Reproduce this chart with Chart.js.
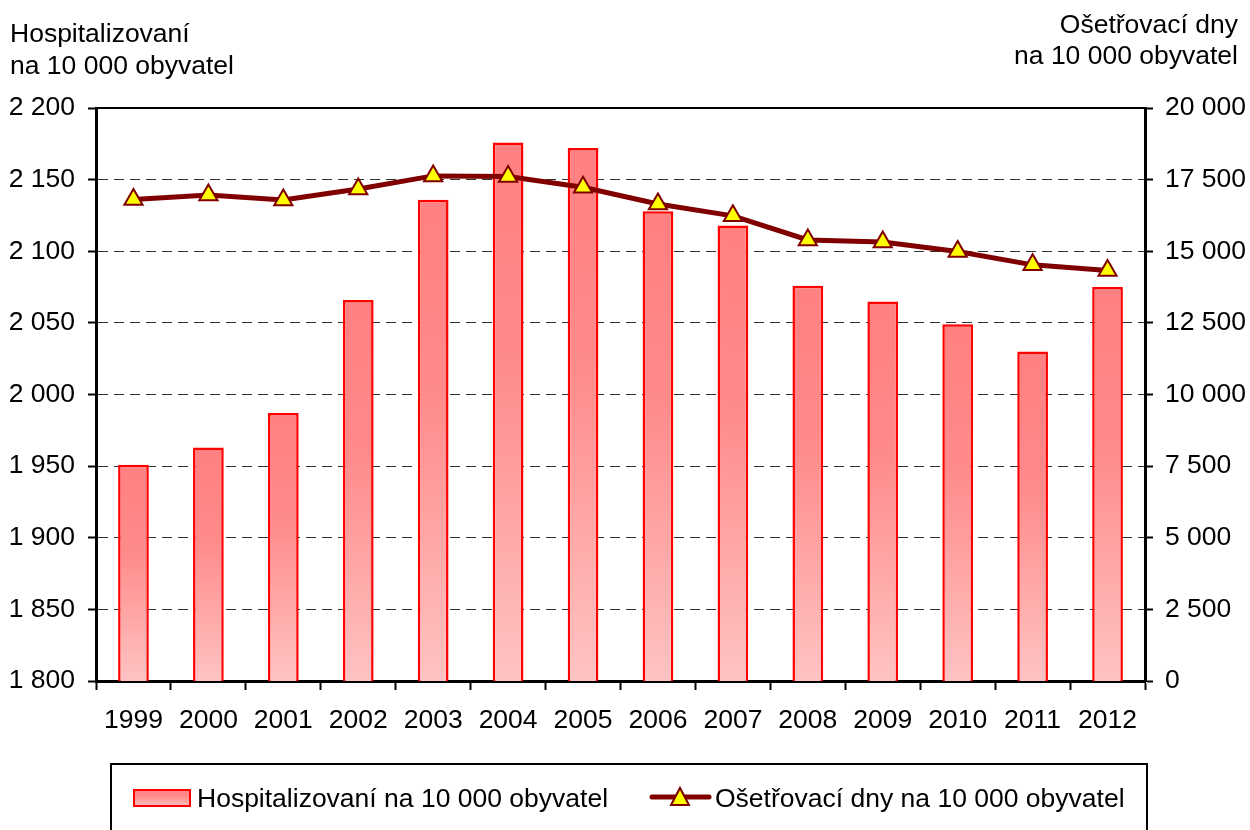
<!DOCTYPE html>
<html>
<head>
<meta charset="utf-8">
<script src="https://cdn.jsdelivr.net/npm/chart.js@4/dist/chart.umd.min.js"></script>
<style>
  html, body { margin: 0; padding: 0; background: #fff; }
  #wrap { position: relative; width: 1250px; height: 830px; }
</style>
</head>
<body>
<div id="wrap"><canvas id="chart" width="1250" height="830"></canvas></div>
<script>
const years = ['1999', '2000', '2001', '2002', '2003', '2004', '2005', '2006', '2007', '2008', '2009', '2010', '2011', '2012'];
const hospitalized = [1951, 1963, 1987, 2066, 2136, 2176, 2172, 2128, 2118, 2076, 2065, 2049, 2030, 2075];
const careDays = [16810, 16965, 16790, 17175, 17630, 17610, 17235, 16650, 16235, 15395, 15325, 14990, 14525, 14325];
const leftTitle = ['Hospitalizovaní', 'na 10 000 obyvatel'];
const rightTitle = ['Ošetřovací dny', 'na 10 000 obyvatel'];
const barLabel = 'Hospitalizovaní na 10 000 obyvatel';
const lineLabel = 'Ošetřovací dny na 10 000 obyvatel';

const FONT = 'Liberation Sans, Arial, sans-serif';
const FSIZE = 26.5;
const fmt = v => String(v).replace(/\B(?=(\d{3})+(?!\d))/g, ' ');

function barGradient(ctx, top, bottom) {
    const g = ctx.createLinearGradient(0, top, 0, bottom);
    g.addColorStop(0, '#ff8080');
    g.addColorStop(0.4, '#ff8a8a');
    g.addColorStop(1, '#ffc3c3');
    return g;
}

// titles, solid top frame line and the boxed legend
const decorations = {
    id: 'decorations',
    beforeDatasetsDraw(chart) {
        const { ctx, chartArea } = chart;
        ctx.save();
        ctx.strokeStyle = '#000';
        ctx.lineWidth = 2;
        ctx.beginPath();
        ctx.moveTo(chartArea.left, chartArea.top);
        ctx.lineTo(chartArea.right, chartArea.top);
        ctx.stroke();
        ctx.restore();
    },
    afterDraw(chart) {
        const ctx = chart.ctx;
        ctx.save();
        ctx.fillStyle = '#000';
        ctx.font = FSIZE + 'px ' + FONT;
        ctx.textBaseline = 'alphabetic';
        ctx.textAlign = 'left';
        ctx.fillText(leftTitle[0], 10, 42);
        ctx.fillText(leftTitle[1], 10, 74);
        ctx.textAlign = 'right';
        ctx.fillText(rightTitle[0], 1238, 33);
        ctx.fillText(rightTitle[1], 1238, 64);

        // legend box
        ctx.strokeStyle = '#000';
        ctx.lineWidth = 2;
        ctx.strokeRect(111, 764, 1036, 100);

        ctx.fillStyle = barGradient(ctx, 789, 807);
        ctx.fillRect(134, 790, 56, 16);
        ctx.strokeStyle = '#ff0000';
        ctx.lineWidth = 2;
        ctx.strokeRect(134, 790, 56, 16);

        ctx.fillStyle = '#000';
        ctx.textAlign = 'left';
        ctx.fillText(barLabel, 197, 807);

        ctx.strokeStyle = '#800000';
        ctx.lineWidth = 5;
        ctx.lineCap = 'round';
        ctx.beginPath();
        ctx.moveTo(652, 797);
        ctx.lineTo(709, 797);
        ctx.stroke();
        ctx.beginPath();
        ctx.moveTo(680, 788);
        ctx.lineTo(689, 805);
        ctx.lineTo(671, 805);
        ctx.closePath();
        ctx.fillStyle = '#ffff00';
        ctx.fill();
        ctx.lineWidth = 2;
        ctx.lineJoin = 'miter';
        ctx.stroke();

        ctx.fillStyle = '#000';
        ctx.fillText(lineLabel, 715, 807);
        ctx.restore();
    }
};

new Chart(document.getElementById('chart'), {
    type: 'bar',
    data: {
        labels: years,
        datasets: [
            {
                type: 'line',
                label: lineLabel,
                data: careDays,
                yAxisID: 'y1',
                order: 0,
                borderColor: '#800000',
                borderWidth: 5,
                tension: 0,
                pointStyle: 'triangle',
                pointRadius: 10.5,
                pointBackgroundColor: '#ffff00',
                pointBorderColor: '#800000',
                pointBorderWidth: 2
            },
            {
                type: 'bar',
                label: barLabel,
                data: hospitalized,
                yAxisID: 'y',
                order: 1,
                borderColor: '#ff0000',
                borderWidth: 2.5,
                categoryPercentage: 1,
                barPercentage: 0.41,
                backgroundColor: function (c) {
                    const chart = c.chart;
                    const area = chart.chartArea;
                    if (!area || c.type !== 'data') return '#ff9999';
                    const top = chart.scales.y.getPixelForValue(c.raw);
                    return barGradient(chart.ctx, top, area.bottom);
                }
            }
        ]
    },
    options: {
        responsive: false,
        animation: false,
        devicePixelRatio: 1,
        layout: { padding: { top: 108, left: 0, right: 0, bottom: 0 } },
        plugins: {
            legend: { display: false },
            tooltip: { enabled: false }
        },
        scales: {
            x: {
                offset: true,
                grid: {
                    offset: true,
                    drawOnChartArea: false,
                    tickLength: 9,
                    tickWidth: 2,
                    tickColor: '#000'
                },
                border: { color: '#000', width: 3 },
                ticks: {
                    color: '#000',
                    font: { family: FONT, size: FSIZE },
                    padding: 15,
                    maxRotation: 0
                },
                afterFit: s => { s.height = 149; }
            },
            y: {
                position: 'left',
                min: 1800,
                max: 2200,
                grid: {
                    color: '#333',
                    lineWidth: 1,
                    tickLength: 8,
                    tickWidth: 2,
                    tickColor: '#000',
                    tickBorderDash: []
                },
                border: { color: '#000', width: 3, dash: [10, 6] },
                ticks: {
                    stepSize: 50,
                    color: '#000',
                    padding: 13,
                    font: { family: FONT, size: FSIZE },
                    callback: v => fmt(v)
                },
                afterFit: s => { s.width = 96; }
            },
            y1: {
                position: 'right',
                min: 0,
                max: 20000,
                grid: {
                    drawOnChartArea: false,
                    tickLength: 8,
                    tickWidth: 2,
                    tickColor: '#000'
                },
                border: { color: '#000', width: 3 },
                ticks: {
                    stepSize: 2500,
                    color: '#000',
                    padding: 12,
                    font: { family: FONT, size: FSIZE },
                    callback: v => fmt(v)
                },
                afterFit: s => { s.width = 105; }
            }
        }
    },
    plugins: [decorations]
});
</script>
</body>
</html>
